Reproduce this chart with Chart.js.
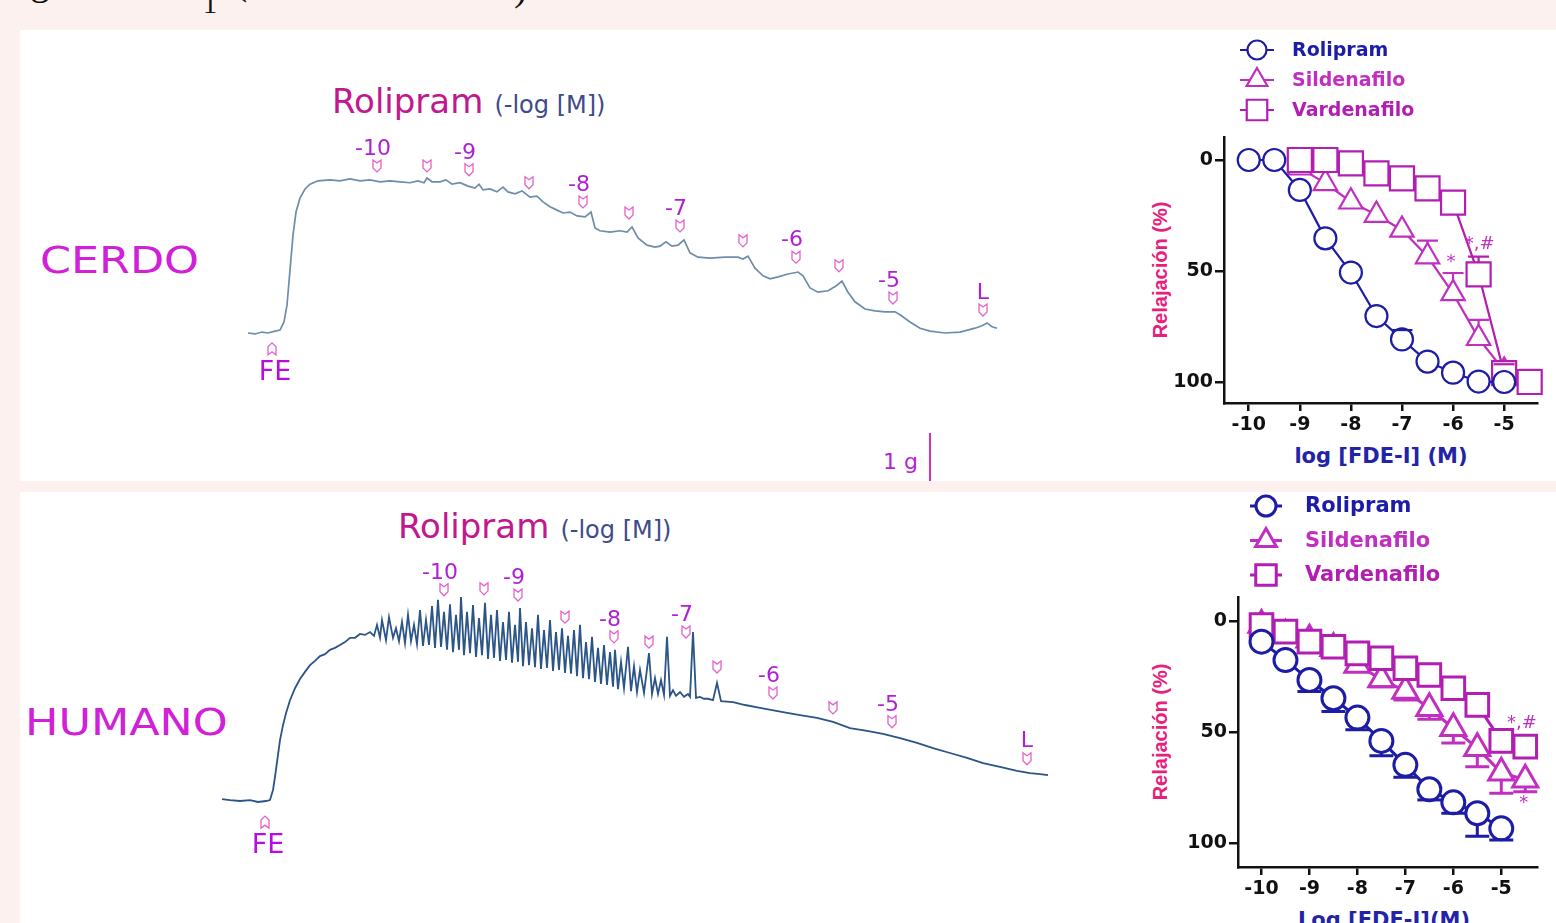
<!DOCTYPE html>
<html>
<head>
<meta charset="utf-8">
<script src="https://cdn.jsdelivr.net/npm/chart.js@4.4.1/dist/chart.umd.min.js"></script>
<style>
body{margin:0;width:1556px;height:923px;overflow:hidden;background:#fcf1ef;position:relative;font-family:"DejaVu Sans",sans-serif}
.panel{position:absolute;left:20px;right:0;background:#fff}
.abs{position:absolute;white-space:nowrap;line-height:1}
canvas{position:absolute}
.cap{font-family:"Liberation Serif",serif;color:#111}
.big{font-size:37px;color:#d020d8;transform:scaleX(1.2);transform-origin:left center}
.ttl .r{font-size:34px;color:#c2188e}
.ttl .s{font-size:24px;color:#3d4b8c;margin-left:6px}
.ytl{font:bold 20px "Liberation Sans",sans-serif;color:#e8207c;transform:translate(-50%,-50%) rotate(-90deg)}
.xtl{font:bold 21px "DejaVu Sans",sans-serif;color:#2323a8;transform:translate(-50%,-50%)}
</style>
</head>
<body>
<div class="panel" style="top:30px;height:451px"></div>
<div class="panel" style="top:492px;height:431px"></div>

<span class="abs cap" style="left:30px;top:-39px;font-size:40px">g</span>
<span class="abs cap" style="left:203px;top:-10px;font-size:28px">1</span>
<span class="abs cap" style="left:234px;top:-39px;font-size:40px">(</span>
<span class="abs cap" style="left:514px;top:-33px;font-size:40px">)</span>

<div class="abs big" style="left:40px;top:242px">CERDO</div>
<div class="abs big" style="left:25px;top:704px">HUMANO</div>
<div class="abs ttl" style="left:332px;top:84px"><span class="r">Rolipram</span> <span class="s">(-log [M])</span></div>
<div class="abs ttl" style="left:398px;top:509px"><span class="r">Rolipram</span> <span class="s">(-log [M])</span></div>
<div class="abs" style="left:883px;top:451px;font-size:22px;color:#b424d4">1 g</div>
<div class="abs" style="left:929px;top:433px;width:2px;height:48px;background:#d42fc4"></div>

<div class="abs ytl" style="left:1160px;top:270px">Relajación (%)</div>
<div class="abs ytl" style="left:1160px;top:732px">Relajación (%)</div>
<div class="abs xtl" style="left:1381px;top:456px">log [FDE-I] (M)</div>
<div class="abs xtl" style="left:1384px;top:920px">Log [FDE-I](M)</div>

<canvas id="cerdoTraceChart" width="780" height="260" style="left:240px;top:130px"></canvas>
<canvas id="humanoTraceChart" width="850" height="305" style="left:215px;top:555px"></canvas>
<canvas id="cerdoDoseChart" width="426" height="450" style="left:1130px;top:30px"></canvas>
<canvas id="humanoDoseChart" width="426" height="431" style="left:1130px;top:492px"></canvas>

<script>
// ---- recordings: [time (min), tension (g)] ----
const cerdoTrace = [[0,0],[0.7,-0.02],[1.4,0.02],[2.0,0],[2.7,0.04],[3.2,0.06],[3.6,0.23],[3.9,0.58],[4.2,1.31],[4.5,2.04],[4.8,2.52],[5.2,2.81],[5.7,3.00],[6.2,3.10],[7.0,3.17],[8.2,3.19],[9.2,3.17],[10.2,3.21],[11.2,3.17],[12.2,3.19],[13.2,3.15],[14.2,3.17],[15.2,3.15],[16.2,3.13],[17.0,3.17],[17.6,3.13],[17.9,3.23],[18.4,3.15],[19.2,3.15],[19.8,3.19],[20.4,3.10],[21.2,3.13],[22.0,3.06],[22.7,3.02],[23.1,3.10],[23.5,2.98],[24.2,3.00],[24.9,2.94],[25.5,3.04],[26.0,2.94],[26.7,2.90],[27.4,2.96],[28.2,2.83],[28.9,2.85],[29.5,2.73],[30.2,2.63],[30.9,2.56],[31.5,2.50],[32.2,2.52],[32.9,2.44],[33.7,2.42],[34.3,2.52],[34.7,2.19],[35.2,2.13],[36.2,2.10],[37.2,2.13],[37.9,2.10],[38.4,2.21],[39.0,1.98],[39.9,1.83],[40.7,1.79],[41.2,1.81],[41.8,1.90],[42.4,1.81],[43.0,1.83],[43.6,1.94],[44.2,1.67],[45.0,1.58],[46.2,1.56],[47.7,1.58],[49.0,1.58],[49.5,1.54],[50.0,1.60],[50.7,1.35],[51.5,1.19],[52.2,1.13],[53.0,1.17],[54.0,1.23],[55.0,1.27],[55.5,1.19],[56.2,0.94],[57.0,0.85],[58.0,0.88],[58.8,0.98],[59.4,1.08],[60.0,0.85],[60.7,0.65],[61.7,0.50],[62.7,0.46],[63.7,0.44],[64.7,0.44],[65.2,0.38],[66.2,0.23],[67.2,0.10],[68.2,0.04],[69.7,0],[71.2,0.02],[72.7,0.10],[73.4,0.15],[73.9,0.21],[74.4,0.13],[74.9,0.10]];

const humanoTrace = [[0,0.04],[0.8,0.02],[1.8,0],[2.8,0.02],[3.6,-0.02],[4.4,0],[4.8,0.02],[5.1,0.23],[5.3,0.50],[5.6,0.96],[5.8,1.27],[6.1,1.58],[6.4,1.83],[6.8,2.10],[7.3,2.35],[7.8,2.54],[8.3,2.69],[8.8,2.83],[9.3,2.92],[9.8,3.02],[10.3,3.06],[10.8,3.15],[11.3,3.19],[11.8,3.25],[12.3,3.31],[12.8,3.40],[13.3,3.40],[13.8,3.48],[14.3,3.46],[14.8,3.52],
  [15.2,3.44],[15.5,3.67],[15.8,3.40],[16.0,3.77],[16.4,3.35],[16.7,3.83],[17.1,3.40],[17.4,3.60],[17.7,3.33],[18.0,3.73],[18.3,3.29],[18.6,3.88],[18.9,3.33],[19.2,3.67],[19.5,3.27],[19.8,3.98],[20.1,3.23],[20.4,3.77],[20.7,3.25],[21.0,4.06],[21.3,3.19],[21.6,4.19],[21.9,3.21],[22.2,3.94],[22.5,3.15],[22.8,4.10],[23.1,3.10],[23.4,3.88],[23.7,3.15],[23.9,4.25],[24.2,3.04],[24.5,3.94],[24.8,3.08],[25.1,4.08],[25.4,3.00],[25.7,3.81],[26.0,3.04],[26.3,4.13],[26.6,2.96],[26.9,3.88],[27.2,2.98],[27.5,3.98],[27.8,2.92],[28.1,3.73],[28.4,2.94],[28.7,3.94],[29.0,2.88],[29.3,3.67],[29.6,2.90],[29.8,4.02],
  [30.1,2.81],[30.4,3.73],[30.7,2.83],[31.0,3.60],[31.3,2.79],[31.6,3.88],[31.9,2.75],[32.2,3.56],[32.5,2.77],[32.8,3.77],[33.1,2.71],[33.4,3.52],[33.7,2.73],[34.0,3.60],[34.3,2.67],[34.6,3.44],[34.9,2.65],[35.2,3.56],[35.5,2.60],[35.8,3.67],[36.1,2.56],[36.4,3.31],[36.7,2.54],[37.0,3.42],[37.3,2.48],[37.6,3.19],[37.9,2.44],[38.2,3.25],[38.5,2.42],[38.8,3.10],[39.1,2.38],[39.3,3.15],[39.6,2.33],[39.9,2.90],[40.2,2.35],[40.6,3.21],[40.9,2.29],[41.2,2.81],[41.5,2.27],[41.8,2.73],[42.2,2.25],[42.7,3.08],[43.0,2.23],[43.3,2.56],[43.6,2.23],[43.9,2.52],[44.2,2.21],[44.5,3.42],[44.8,2.19],[45.1,2.31],[45.4,2.19],[45.8,2.27],[46.2,2.17],[46.6,2.23],[46.8,2.17],[47.1,3.52],[47.4,2.15],[47.8,2.17],[48.2,2.13],[48.6,2.13],[49.1,2.10],[49.5,2.46],[49.9,2.08],
  [51.1,2.06],[52.3,2.00],[53.8,1.94],[56.1,1.85],[57.8,1.79],[59.5,1.73],[61.1,1.65],[62.8,1.52],[64.5,1.46],[66.1,1.40],[67.8,1.31],[69.5,1.21],[71.1,1.10],[72.8,1.00],[74.5,0.90],[76.1,0.79],[77.8,0.71],[79.5,0.63],[80.8,0.58],[81.8,0.56],[82.6,0.54]];

// dose additions (time, tension at the arrow, label)
const cerdoDoseTimes = [12.9, 17.9, 22.1, 28.1, 33.5, 38.1, 43.2, 49.5, 54.8, 59.1, 64.5, 73.5];
const cerdoDoseAt = [3.48, 3.48, 3.40, 3.13, 2.73, 2.50, 2.23, 1.92, 1.58, 1.40, 0.73, 0.48];
const humanoDoseTimes = [22.2, 26.2, 29.6, 34.3, 39.2, 42.7, 46.4, 49.5, 55.1, 61.1, 67.0, 80.5];
const humanoDoseAt = [4.40, 4.42, 4.29, 3.83, 3.42, 3.31, 3.52, 2.79, 2.25, 1.94, 1.65, 0.88];
const doseLabels = ['-10', '', '-9', '', '-8', '', '-7', '', '-6', '', '-5', 'L'];
const cerdoFE = [2.4, -0.33];
const humanoFE = [4.3, -0.44];

// ---- concentration-response curves ----
const doses = [-10, -9.5, -9, -8.5, -8, -7.5, -7, -6.5, -6, -5.5, -5, -4.5];
const xTickValues = [-10, -9, -8, -7, -6, -5];
const yTickValues = [0, 50, 100];
const seriesNames = ['Rolipram', 'Sildenafilo', 'Vardenafilo'];

const cerdoRoli = [0, 0, 13.5, 35.3, 50.7, 70.3, 80.8, 90.8, 95.8, 99.8, 100];
const cerdoRoliSem = [0, 0, 0, 0, 0, 0, 4.2, 0, 0, 0, 0];
const cerdoSild = [3.5, 10.5, 18.8, 24.8, 31.5, 43.5, 60.1, 80.3, 95];
const cerdoSildSem = [0, 0, 0, 0, 0, 7.2, 9.2, 8.3, 0];
const cerdoVard = [0, 0, 1.5, 6, 8.3, 12.8, 19.2, 51.5, 96, 100];
const cerdoVardSem = [0, 0, 0, 0, 0, 0, 0, 8, 4, 5.5];
const cerdoSig = [[-6.04, 46, '*'], [-5.48, 38, '*,#']];

const humanoRoli = [9.3, 17.6, 26.6, 34.8, 43.5, 54, 64.8, 75.8, 81.7, 86.6, 93.4];
const humanoRoliSem = [0, 0, 5.2, 6, 5.5, 6.7, 5.6, 4.8, 4.9, 10.4, 5.2];
const humanoSild = [1.8, 6.3, 8.5, 12.3, 19.8, 26.3, 31.5, 39.3, 48.3, 57.3, 68.3, 71.5];
const humanoSildSem = [0, 0, 0, 0, 0, 3.3, 4.1, 5, 6.7, 8.3, 9.3, 5.4];
const humanoVard = [1.8, 4.8, 9.3, 11.6, 14.6, 16.8, 21.3, 24.3, 30.3, 37.8, 54, 56.6];
const humanoVardSem = [0, 0, 0, 0, 0, 0, 0, 0, 0, 0, 0, 0];
const humanoSig = [[-4.57, 46, '*,#'], [-4.53, 82, '*']];

const seriesColors = ['#1c1ca6', '#c12fc1', '#b21eb2'];
const seriesStyles = ['circle', 'triangle', 'rect'];

function drawTag(ctx, x, y, dir) {
  ctx.beginPath();
  ctx.moveTo(x - 4, y - 6 * dir);
  ctx.lineTo(x, y - 3 * dir);
  ctx.lineTo(x + 4, y - 6 * dir);
  ctx.lineTo(x + 4, y + 2 * dir);
  ctx.lineTo(x, y + 6 * dir);
  ctx.lineTo(x - 4, y + 2 * dir);
  ctx.closePath();
  ctx.stroke();
}

function drawShape(ctx, style, x, y, r) {
  ctx.beginPath();
  if (style === 'circle') {
    ctx.arc(x, y, r, 0, Math.PI * 2);
  } else if (style === 'triangle') {
    ctx.moveTo(x, y - r);
    ctx.lineTo(x + r * 0.866, y + r / 2);
    ctx.lineTo(x - r * 0.866, y + r / 2);
    ctx.closePath();
  } else {
    const s = r * Math.SQRT1_2;
    ctx.rect(x - s, y - s, 2 * s, 2 * s);
  }
  ctx.fill();
  ctx.stroke();
}

const doseMarks = {
  id: 'doseMarks',
  afterDatasetsDraw(chart, args, o) {
    const ctx = chart.ctx, xs = chart.scales.x, ys = chart.scales.y;
    ctx.save();
    ctx.lineWidth = 1.3;
    ctx.strokeStyle = '#e263c9';
    ctx.fillStyle = '#b01fd6';
    ctx.textAlign = 'center';
    ctx.textBaseline = 'middle';
    o.times.forEach((t, i) => {
      const x = xs.getPixelForValue(t), y = ys.getPixelForValue(o.at[i]);
      drawTag(ctx, x, y, 1);
      const lab = o.labels[i];
      if (lab) {
        ctx.font = '22px "DejaVu Sans"';
        ctx.fillText(lab, x - (lab[0] === '-' ? 4 : 0), y - 17);
      }
    });
    const fx = xs.getPixelForValue(o.fe[0]), fy = ys.getPixelForValue(o.fe[1]);
    drawTag(ctx, fx, fy, -1);
    ctx.fillStyle = '#b40ee0';
    ctx.font = '27px "DejaVu Sans"';
    ctx.fillText('FE', fx + 3, fy + 24);
    ctx.restore();
  }
};

function traceChart(id, points, line, marks, xr, yr) {
  return new Chart(document.getElementById(id), {
    type: 'line',
    data: {
      datasets: [{
        data: points.map(p => ({x: p[0], y: p[1]})),
        borderColor: line.color,
        borderWidth: line.width,
        pointRadius: 0,
        tension: 0,
        clip: false
      }]
    },
    options: {
      responsive: false,
      animation: false,
      devicePixelRatio: 1,
      layout: {padding: 0},
      plugins: {legend: {display: false}, tooltip: {enabled: false}, doseMarks: marks},
      scales: {
        x: {type: 'linear', display: false, min: xr[0], max: xr[1]},
        y: {type: 'linear', display: false, min: yr[0], max: yr[1]}
      }
    },
    plugins: [doseMarks]
  });
}

traceChart('cerdoTraceChart', cerdoTrace, {color: '#6e8cab', width: 1.7},
  {times: cerdoDoseTimes, at: cerdoDoseAt, labels: doseLabels, fe: cerdoFE},
  [-0.8, 77.2], [-1.1875, 4.229]);
traceChart('humanoTraceChart', humanoTrace, {color: '#2b5487', width: 1.8},
  {times: humanoDoseTimes, at: humanoDoseAt, labels: doseLabels, fe: humanoFE},
  [-0.7, 84.3], [-1.229, 5.125]);

const sideLegend = {
  id: 'sideLegend',
  afterDraw(chart, args, o) {
    const ctx = chart.ctx;
    ctx.save();
    chart.data.datasets.forEach((ds, i) => {
      const y = o.y + i * o.gap;
      ctx.strokeStyle = ds.borderColor;
      ctx.fillStyle = '#fff';
      ctx.lineWidth = o.lw;
      ctx.beginPath();
      ctx.moveTo(o.x - o.half, y);
      ctx.lineTo(o.x + o.half, y);
      ctx.stroke();
      drawShape(ctx, ds.pointStyle, o.x, y, o.radius[i]);
      ctx.fillStyle = ds.borderColor;
      ctx.font = o.font;
      ctx.textAlign = 'left';
      ctx.textBaseline = 'middle';
      ctx.fillText(ds.label, o.textX, y + 1);
    });
    ctx.restore();
  }
};

const errorBars = {
  id: 'errorBars',
  afterDatasetsDraw(chart, args, o) {
    const ctx = chart.ctx, xs = chart.scales.x, ys = chart.scales.y;
    chart.data.datasets.forEach(ds => {
      ctx.save();
      ctx.strokeStyle = ds.borderColor;
      ctx.lineWidth = ds.borderWidth;
      ds.data.forEach((p, j) => {
        const e = ds.sem[j];
        if (!e) return;
        const px = xs.getPixelForValue(p.x);
        const py = ys.getPixelForValue(p.y);
        const ey = ys.getPixelForValue(p.y + o.dir * e);
        const down = ey > py;
        let edge = ds.pointRadius;
        if (ds.pointStyle === 'rect') edge *= Math.SQRT1_2;
        if (ds.pointStyle === 'triangle' && down) edge /= 2;
        ctx.beginPath();
        if (Math.abs(ey - py) > edge) {
          ctx.moveTo(px, py + (down ? edge : -edge));
          ctx.lineTo(px, ey);
        }
        ctx.moveTo(px - o.cap / 2, ey);
        ctx.lineTo(px + o.cap / 2, ey);
        ctx.stroke();
      });
      ctx.restore();
    });
  }
};

const sigMarks = {
  id: 'sigMarks',
  afterDatasetsDraw(chart, args, o) {
    const ctx = chart.ctx, xs = chart.scales.x, ys = chart.scales.y;
    ctx.save();
    ctx.fillStyle = '#c030c0';
    ctx.font = o.font;
    ctx.textAlign = 'center';
    ctx.textBaseline = 'middle';
    o.marks.forEach(m => ctx.fillText(m[2], xs.getPixelForValue(m[0]), ys.getPixelForValue(m[1])));
    ctx.restore();
  }
};

function doseChart(id, sets, cfg) {
  const tickFont = {family: 'DejaVu Sans', size: 19, weight: 'bold'};
  return new Chart(document.getElementById(id), {
    type: 'scatter',
    data: {
      datasets: sets.map((s, i) => ({
        label: seriesNames[i],
        data: s.doses.map((d, j) => ({x: d, y: s.values[j]})),
        sem: s.sem,
        showLine: true,
        borderColor: seriesColors[i],
        backgroundColor: '#fff',
        borderWidth: cfg.lw,
        pointStyle: seriesStyles[i],
        pointRadius: cfg.radius[i],
        pointBorderWidth: cfg.lw,
        pointBackgroundColor: '#fff',
        pointBorderColor: seriesColors[i],
        order: [0, 2, 1][i],
        clip: false
      }))
    },
    options: {
      responsive: false,
      animation: false,
      devicePixelRatio: 1,
      layout: {padding: {top: cfg.padTop, right: cfg.padRight, left: 0, bottom: 0}},
      plugins: {
        legend: {display: false},
        tooltip: {enabled: false},
        sideLegend: cfg.legend,
        errorBars: {dir: cfg.errDir, cap: cfg.cap},
        sigMarks: {marks: cfg.sig, font: '18px "DejaVu Sans"'}
      },
      scales: {
        x: {
          type: 'linear', min: cfg.x[0], max: cfg.x[1],
          afterFit: s => { s.height = cfg.xH; },
          afterBuildTicks: s => { s.ticks = xTickValues.map(v => ({value: v})); },
          ticks: {color: '#111', font: tickFont, padding: 3, maxRotation: 0, callback: v => String(v)},
          grid: {drawOnChartArea: false, drawTicks: true, tickLength: 8, color: '#111', lineWidth: 2.5},
          border: {display: true, color: '#111', width: 2.5}
        },
        y: {
          type: 'linear', reverse: true, min: cfg.y[0], max: cfg.y[1],
          afterFit: s => { s.width = cfg.yW; },
          afterBuildTicks: s => { s.ticks = yTickValues.map(v => ({value: v})); },
          ticks: {color: '#111', font: tickFont, padding: 2, callback: v => String(v)},
          grid: {drawOnChartArea: false, drawTicks: true, tickLength: 9, color: '#111', lineWidth: 2.5},
          border: {display: true, color: '#111', width: 2.5}
        }
      }
    },
    plugins: [errorBars, sigMarks, sideLegend]
  });
}

doseChart('cerdoDoseChart', [
  {doses: doses.slice(0, 11), values: cerdoRoli, sem: cerdoRoliSem},
  {doses: doses.slice(2, 11), values: cerdoSild, sem: cerdoSildSem},
  {doses: doses.slice(2), values: cerdoVard, sem: cerdoVardSem}
], {
  lw: 2.2, radius: [11, 13.5, 17], padTop: 107, padRight: 16, xH: 77, yW: 94,
  x: [-10.4845, -4.3605], y: [-10.36, 109.46], errDir: -1, cap: 21, sig: cerdoSig,
  legend: {x: 127, y: 20, gap: 30, half: 17, textX: 162, lw: 2.2, radius: [9.5, 12, 14.5], font: 'bold 19px "DejaVu Sans"'}
});

doseChart('humanoDoseChart', [
  {doses: doses.slice(0, 11), values: humanoRoli, sem: humanoRoliSem},
  {doses: doses, values: humanoSild, sem: humanoSildSem},
  {doses: doses, values: humanoVard, sem: humanoVardSem}
], {
  lw: 3, radius: [11.5, 14.5, 16], padTop: 105, padRight: 0, xH: 56, yW: 108,
  x: [-10.49, -4.255], y: [-10.81, 110.81], errDir: 1, cap: 24, sig: humanoSig,
  legend: {x: 136, y: 14, gap: 34.5, half: 16, textX: 175, lw: 3, radius: [10, 12, 14.5], font: 'bold 21px "DejaVu Sans"'}
});
</script>
</body>
</html>
